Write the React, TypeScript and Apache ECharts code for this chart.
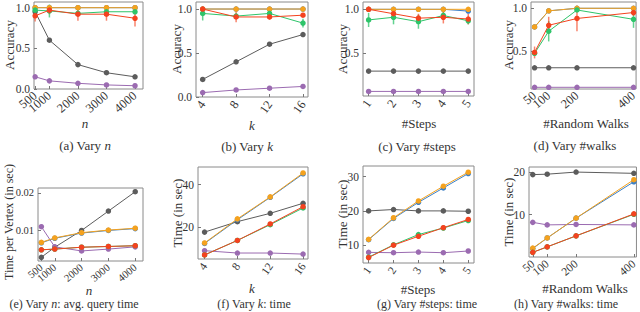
import React, { useEffect, useRef } from 'react';
import * as echarts from 'echarts';

// ---------- data ----------
const xN = [500, 1000, 2000, 3000, 4000];
const xK = [4, 8, 12, 16];
const xSteps = [1, 2, 3, 4, 5];
const xWalks = [50, 100, 200, 400];

// (a) accuracy vs n
const accN_blue = [1.0, 1.0, 1.0, 1.0, 1.0];
const accN_orange = [1.0, 1.0, 1.0, 1.0, 1.0];
const accN_green = [0.97, 0.96, 0.93, 0.95, 0.95];
const accN_red = [0.9, 0.97, 0.92, 0.92, 0.87];
const accN_gray = [0.95, 0.6, 0.3, 0.2, 0.15];
const accN_purple = [0.15, 0.1, 0.07, 0.05, 0.04];
const accN_greenErr = [0.02, 0.08, 0.02, 0.02, 0.02];
const accN_redErr = [0.07, 0.05, 0.08, 0.08, 0.1];

// (b) accuracy vs k
const accK_blue = [1.0, 1.0, 1.0, 1.0];
const accK_orange = [1.0, 1.0, 1.0, 1.0];
const accK_green = [0.95, 0.92, 0.95, 0.84];
const accK_red = [1.0, 0.91, 0.91, 0.93];
const accK_gray = [0.2, 0.4, 0.6, 0.71];
const accK_purple = [0.05, 0.08, 0.1, 0.12];
const accK_greenErr = [0.08, 0.03, 0.02, 0.05];
const accK_redErr = [0.02, 0.06, 0.03, 0.02];

// (c) accuracy vs #steps
const accS_blue = [1.0, 1.0, 1.0, 1.0, 0.98];
const accS_orange = [1.0, 1.0, 1.0, 1.0, 1.0];
const accS_green = [0.88, 0.91, 0.86, 0.93, 0.87];
const accS_red = [1.0, 0.95, 0.9, 0.91, 0.89];
const accS_gray = [0.3, 0.3, 0.3, 0.3, 0.3];
const accS_purple = [0.07, 0.07, 0.07, 0.07, 0.07];
const accS_greenErr = [0.08, 0.08, 0.08, 0.05, 0.04];
const accS_redErr = [0.03, 0.05, 0.05, 0.07, 0.06];

// (d) accuracy vs #walks
const accW_blue = [0.78, 0.97, 1.0, 1.0];
const accW_orange = [0.78, 0.97, 1.0, 1.0];
const accW_green = [0.47, 0.73, 0.98, 0.87];
const accW_red = [0.48, 0.8, 0.88, 0.95];
const accW_gray = [0.3, 0.3, 0.3, 0.3];
const accW_purple = [0.07, 0.07, 0.07, 0.07];
const accW_greenErr = [0.03, 0.12, 0.02, 0.1];
const accW_redErr = [0.07, 0.1, 0.15, 0.04];

// (e) time per vertex vs n
const tN_blue = [0.0066, 0.0078, 0.0092, 0.0099, 0.0104];
const tN_orange = [0.0067, 0.0079, 0.0093, 0.01, 0.0105];
const tN_green = [0.0047, 0.0049, 0.0054, 0.0056, 0.0058];
const tN_red = [0.0047, 0.0049, 0.0054, 0.0056, 0.0058];
const tN_gray = [0.0027, 0.0054, 0.0099, 0.0151, 0.0203];
const tN_purple = [0.0109, 0.0055, 0.0044, 0.0049, 0.0055];

// (f) time vs k
const tK_blue = [12.4, 23.5, 34.0, 45.0];
const tK_orange = [12.6, 23.9, 34.2, 45.4];
const tK_green = [7.0, 13.8, 21.2, 29.0];
const tK_red = [7.0, 13.8, 21.5, 29.6];
const tK_gray = [17.7, 22.6, 26.5, 31.2];
const tK_purple = [9.0, 7.9, 7.9, 7.4];

// (g) time vs #steps
const tS_blue = [11.6, 17.8, 22.5, 26.7, 30.9];
const tS_orange = [11.7, 18.0, 22.9, 27.2, 31.3];
const tS_green = [6.5, 10.1, 13.1, 15.0, 17.2];
const tS_red = [6.4, 10.0, 12.6, 15.1, 17.5];
const tS_gray = [20.0, 20.4, 20.0, 20.0, 19.9];
const tS_purple = [7.9, 7.8, 8.0, 7.8, 8.3];

// (h) time vs #walks
const tW_blue = [2.0, 4.5, 9.2, 17.8];
const tW_orange = [2.1, 4.5, 9.2, 18.3];
const tW_green = [1.1, 2.4, 5.0, 10.1];
const tW_red = [1.1, 2.4, 5.0, 10.2];
const tW_gray = [19.5, 19.6, 20.1, 19.8];
const tW_purple = [8.2, 7.6, 7.7, 7.6];

// tick labels
const ticksN = [500, 1000, 2000, 3000, 4000];
const ticksK = [4, 8, 12, 16];
const ticksSteps = [1, 2, 3, 4, 5];
const ticksWalks = [50, 100, 200, 400];
const ticksAcc = [0, 0.5, 1.0];
const ticksAccNoZero = [0.5, 1.0];
const ticksTN = [0.01, 0.02];
const ticksTK = [20, 40];
const ticksTS = [10, 20, 30];
const ticksTW = [10, 20];

// ---------- styling ----------
const COLORS: Record<string, string> = {
  blue: '#3b7fc6',
  orange: '#f5a21e',
  green: '#2ec46a',
  red: '#f4421f',
  gray: '#5c5c5c',
  purple: '#9b6bb1',
};
const ERR_COLORS: Record<string, string> = {
  green: 'rgba(46,196,106,0.75)',
  red: 'rgba(244,66,31,0.65)',
};
const ORDER = ['gray', 'purple', 'blue', 'orange', 'green', 'red'];
const FONT = '"Liberation Serif", "DejaVu Serif", serif';

type Panel = {
  x: number[];
  lines: Record<string, number[]>;
  errs?: Record<string, number[]>;
  grid: { left: number; top: number; width: number; height: number };
  xr: [number, number];
  yr: [number, number];
  xTicks: number[];
  yTicks: number[];
  yFmt: (v: number) => string;
  rot: number;
  ySize: number;
  xSize: number;
};

const acc = (v: number) => v.toFixed(1);
const plain = (v: number) => String(v);

const panels: Panel[] = [
  {
    x: xN,
    lines: { blue: accN_blue, orange: accN_orange, green: accN_green, red: accN_red, gray: accN_gray, purple: accN_purple },
    errs: { green: accN_greenErr, red: accN_redErr },
    grid: { left: 34, top: 2, width: 109, height: 87 },
    xr: [460, 4280], yr: [0, 1.07], xTicks: ticksN, yTicks: ticksAcc, yFmt: acc, rot: 40, ySize: 11.5, xSize: 12.5,
  },
  {
    x: xK,
    lines: { blue: accK_blue, orange: accK_orange, green: accK_green, red: accK_red, gray: accK_gray, purple: accK_purple },
    errs: { green: accK_greenErr, red: accK_redErr },
    grid: { left: 196, top: 2, width: 112, height: 95 },
    xr: [3.2, 16.6], yr: [0, 1.08], xTicks: ticksK, yTicks: ticksAcc, yFmt: acc, rot: 55, ySize: 11.5, xSize: 12.5,
  },
  {
    x: xSteps,
    lines: { blue: accS_blue, orange: accS_orange, green: accS_green, red: accS_red, gray: accS_gray, purple: accS_purple },
    errs: { green: accS_greenErr, red: accS_redErr },
    grid: { left: 363, top: 2, width: 111, height: 94 },
    xr: [0.775, 5.23], yr: [0.018, 1.083], xTicks: ticksSteps, yTicks: ticksAccNoZero, yFmt: acc, rot: 55, ySize: 11.5, xSize: 12.5,
  },
  {
    x: xWalks,
    lines: { blue: accW_blue, orange: accW_orange, green: accW_green, red: accW_red, gray: accW_gray, purple: accW_purple },
    errs: { green: accW_greenErr, red: accW_redErr },
    grid: { left: 531, top: 2, width: 106, height: 87 },
    xr: [37.4, 409], yr: [0.05, 1.074], xTicks: ticksWalks, yTicks: ticksAccNoZero, yFmt: acc, rot: 40, ySize: 11.5, xSize: 12.5,
  },
  {
    x: xN,
    lines: { blue: tN_blue, orange: tN_orange, green: tN_green, red: tN_red, gray: tN_gray, purple: tN_purple },
    grid: { left: 38, top: 188, width: 105, height: 73 },
    xr: [375, 4290], yr: [0.0017, 0.0213], xTicks: ticksN, yTicks: ticksTN, yFmt: plain, rot: 40, ySize: 10.5, xSize: 10.5,
  },
  {
    x: xK,
    lines: { blue: tK_blue, orange: tK_orange, green: tK_green, red: tK_red, gray: tK_gray, purple: tK_purple },
    grid: { left: 198, top: 167, width: 110, height: 92 },
    xr: [3.2, 16.6], yr: [5.1, 48.2], xTicks: ticksK, yTicks: ticksTK, yFmt: plain, rot: 55, ySize: 11.5, xSize: 11.5,
  },
  {
    x: xSteps,
    lines: { blue: tS_blue, orange: tS_orange, green: tS_green, red: tS_red, gray: tS_gray, purple: tS_purple },
    grid: { left: 363, top: 166, width: 111, height: 97 },
    xr: [0.775, 5.23], yr: [4.8, 33.1], xTicks: ticksSteps, yTicks: ticksTS, yFmt: plain, rot: 55, ySize: 11.5, xSize: 11.5,
  },
  {
    x: xWalks,
    lines: { blue: tW_blue, orange: tW_orange, green: tW_green, red: tW_red, gray: tW_gray, purple: tW_purple },
    grid: { left: 529, top: 167, width: 108, height: 90 },
    xr: [37, 409], yr: [0, 21.3], xTicks: ticksWalks, yTicks: ticksTW, yFmt: plain, rot: 40, ySize: 11.5, xSize: 11.5,
  },
];

const italic = { fontStyle: 'italic', fontFamily: FONT, fontSize: 13, fill: '#333' };
const italicSmall = { fontStyle: 'italic', fontFamily: FONT, fontSize: 12, fill: '#333' };

const textEl = (x: number, y: number, text: string, opts: any = {}) => ({
  type: 'text',
  x,
  y,
  rotation: opts.rotation || 0,
  silent: true,
  style: {
    text,
    fontFamily: FONT,
    fontSize: opts.fontSize || 13,
    fill: '#333',
    align: 'center',
    verticalAlign: 'middle',
    rich: { i: opts.fontSize === 12 ? italicSmall : italic },
  },
});

const graphics = [
  // x axis names
  textEl(85, 123, '{i|n}'),
  textEl(252, 125, '{i|k}'),
  textEl(419, 123, '#Steps'),
  textEl(586, 123, '#Random Walks'),
  textEl(89, 290, '{i|n}'),
  textEl(252, 288, '{i|k}'),
  textEl(418, 289, '#Steps'),
  textEl(585, 288, '#Random Walks'),
  // y axis names
  textEl(9, 45, 'Accuracy', { rotation: Math.PI / 2 }),
  textEl(176, 49, 'Accuracy', { rotation: Math.PI / 2 }),
  textEl(342, 49, 'Accuracy', { rotation: Math.PI / 2 }),
  textEl(508, 45, 'Accuracy', { rotation: Math.PI / 2 }),
  textEl(9, 222, 'Time per Vertex (in sec)', { rotation: Math.PI / 2, fontSize: 12 }),
  textEl(177, 213, 'Time (in sec)', { rotation: Math.PI / 2 }),
  textEl(342, 214, 'Time (in sec)', { rotation: Math.PI / 2 }),
  textEl(508, 212, 'Time (in sec)', { rotation: Math.PI / 2 }),
  // captions
  textEl(85, 145, '(a) Vary {i|n}'),
  textEl(247, 146, '(b) Vary {i|k}'),
  textEl(417, 146, '(c) Vary #steps'),
  textEl(575, 145, '(d) Vary #walks'),
  textEl(74, 304, '(e) Vary {i|n}: avg. query time', { fontSize: 12 }),
  textEl(254, 304, '(f) Vary {i|k}: time', { fontSize: 12 }),
  textEl(427, 304, '(g) Vary #steps: time', { fontSize: 12 }),
  textEl(566, 304, '(h) Vary #walks: time', { fontSize: 12 }),
];

function buildOption() {
  const grids: any[] = [];
  const xAxes: any[] = [];
  const yAxes: any[] = [];
  const series: any[] = [];
  panels.forEach((p, i) => {
    grids.push({ ...p.grid, show: true, borderColor: '#8a8a8a', borderWidth: 1, containLabel: false });
    const labelBase = {
      show: true,
      rotate: p.rot,
      margin: 5,
      fontFamily: FONT,
      fontSize: p.xSize,
      color: '#333',
      hideOverlap: false,
      showMinLabel: true,
      showMaxLabel: true,
      formatter: (v: number) => String(v),
    };
    // main x axis: all ticks, labels except the first
    xAxes.push({
      type: 'value',
      gridIndex: i,
      position: 'bottom',
      offset: 0,
      min: p.xr[0],
      max: p.xr[1],
      axisLine: { show: false },
      splitLine: { show: false },
      axisTick: { show: true, inside: true, length: 3, lineStyle: { color: '#777' }, customValues: p.xTicks },
      axisLabel: { ...labelBase, customValues: p.xTicks.slice(1) },
    });
    // helper x axis: only the first label (avoids overlap hiding)
    xAxes.push({
      type: 'value',
      gridIndex: i,
      position: 'bottom',
      offset: 0,
      min: p.xr[0],
      max: p.xr[1],
      axisLine: { show: false },
      splitLine: { show: false },
      axisTick: { show: false },
      axisLabel: { ...labelBase, customValues: p.xTicks.slice(0, 1) },
    });
    yAxes.push({
      type: 'value',
      gridIndex: i,
      min: p.yr[0],
      max: p.yr[1],
      axisLine: { show: false },
      splitLine: { show: false },
      axisTick: { show: true, inside: true, length: 3, lineStyle: { color: '#777' }, customValues: p.yTicks },
      axisLabel: {
        show: true,
        margin: 4,
        fontFamily: FONT,
        fontSize: p.ySize,
        color: '#333',
        hideOverlap: false,
        showMinLabel: true,
        showMaxLabel: true,
        customValues: p.yTicks,
        formatter: (v: number) => p.yFmt(v),
      },
    });
    const xi = 2 * i;
    if (p.errs) {
      Object.keys(p.errs).forEach((key) => {
        const vals = p.lines[key];
        const e = p.errs![key];
        series.push({
          type: 'custom',
          xAxisIndex: xi,
          yAxisIndex: i,
          silent: true,
          z: 1,
          data: p.x.map((xv, j) => [xv, vals[j], e[j]]),
          renderItem: (_params: any, api: any) => {
            const xv = api.value(0);
            const yv = api.value(1);
            const ev = api.value(2);
            const a = api.coord([xv, yv - ev]);
            const b = api.coord([xv, yv + ev]);
            return {
              type: 'line',
              shape: { x1: a[0], y1: a[1], x2: b[0], y2: b[1] },
              style: { stroke: ERR_COLORS[key], lineWidth: 1.5 },
            };
          },
        });
      });
    }
    ORDER.forEach((key, k) => {
      const vals = p.lines[key];
      series.push({
        type: 'line',
        name: key,
        xAxisIndex: xi,
        yAxisIndex: i,
        data: p.x.map((xv, j) => [xv, vals[j]]),
        symbol: 'circle',
        symbolSize: 5.5,
        showSymbol: true,
        z: 2 + k,
        lineStyle: { color: COLORS[key], width: 1 },
        itemStyle: { color: COLORS[key] },
        emphasis: { disabled: true },
      });
    });
  });
  return {
    animation: false,
    backgroundColor: '#ffffff',
    grid: grids,
    xAxis: xAxes,
    yAxis: yAxes,
    series,
    graphic: graphics,
  };
}

export default function App() {
  const ref = useRef<HTMLDivElement>(null);
  useEffect(() => {
    document.body.style.margin = '0';
    const chart = echarts.init(ref.current!, undefined, { renderer: 'svg' });
    chart.setOption(buildOption() as any);
    return () => chart.dispose();
  }, []);
  return <div ref={ref} style={{ width: 640, height: 312 }} />;
}
